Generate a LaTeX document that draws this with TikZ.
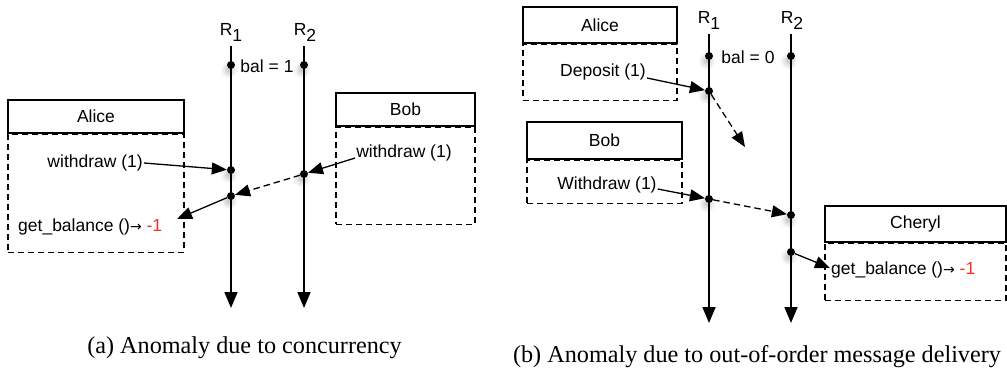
\documentclass[tikz,border=0pt]{standalone}
\usepackage{fontspec}
\newfontfamily\helv{Liberation Sans}
\newfontfamily\captserif{Liberation Serif}
\newfontfamily\arrowfont{DejaVu Sans}
\usetikzlibrary{arrows.meta,shadows.blur}
\definecolor{errred}{RGB}{250,45,35}
\newcommand{\retarrow}{{\arrowfont\fontsize{14}{16}\selectfont →}}

\begin{document}
\begin{tikzpicture}
[
x=1pt,y=-1pt,
lbl/.style={font=\helv\fontsize{17.5}{20}\selectfont,inner sep=1pt},
ev/.style={circle,fill,inner sep=0pt,minimum size=8pt,
           blur shadow={shadow xshift=-2pt,shadow yshift=-5pt,shadow blur radius=5pt,shadow opacity=25}},
head/.style 2 args={draw,line width=1.3pt,minimum width=#1,minimum height=#2,lbl},
body/.style 2 args={draw,line width=1.2pt,dash pattern=on 6pt off 4pt,minimum width=#1,minimum height=#2,anchor=north},
replica/.style={line width=1.7pt,-{Triangle[length=16pt,width=13pt]}},
msg/.style={line width=1.3pt,-{Triangle[length=15pt,width=12pt]}},
dmsg/.style={msg,dash pattern=on 6.5pt off 4pt},
capt/.style={font=\captserif\fontsize{24.2}{28}\selectfont},
]
\useasboundingbox (0,0) rectangle (1007,377);

%%% (a) concurrent withdrawals
%Place the replicas
\coordinate (ar1) at (231,46);
\coordinate (ar1e) at (231,308);
\coordinate (ar2) at (304,46);
\coordinate (ar2e) at (304,308);
\draw[replica] (ar1) -- (ar1e);
\draw[replica] (ar2) -- (ar2e);
\node[lbl] (ar1lab) at (231,32) {R\raisebox{-6pt}{1}};
\node[lbl] (ar2lab) at (305,32) {R\raisebox{-6pt}{2}};
%Events on the replicas
\node[ev] (ab1) at (231,65) {};
\node[ev] (ab2) at (304,65) {};
\node[lbl] (abal) at (267,66) {bal = 1};
\node[ev] (aw1) at (231,170) {};
\node[ev] (ag1) at (231,196) {};
\node[ev] (aw2) at (304,174) {};
%Clients
\node[head={176}{33}] (alice) at (96,116.5) {Alice};
\node[body={176}{118}] (alicebox) at (alice.south) {};
\node[lbl,anchor=east] (awd) at (144,163) {withdraw (1)};
\node[lbl,anchor=west] (aget) at (17,227) {get\_balance ()\retarrow{} \textcolor{errred}{-1}};
\coordinate (agettip) at (177,219);
\node[head={139}{33}] (bob) at (405.5,109.5) {Bob};
\node[body={139}{97}] (bobbox) at (bob.south) {};
\node[lbl] (bwd) at (404,153) {withdraw (1)};
%Draw the connections
\draw[msg] (awd.east) -- (aw1);
\draw[msg] ([yshift=-5pt]bwd.west) -- (aw2);
\draw[dmsg] (aw2) -- (ag1);
\draw[msg] (ag1) -- (agettip);
\node[capt] (capa) at (244.5,348) {(a) Anomaly due to concurrency};

%%% (b) out-of-order delivery
%Place the replicas
\coordinate (br1) at (709,34);
\coordinate (br1e) at (709,323);
\coordinate (br2) at (791,34);
\coordinate (br2e) at (791,323);
\draw[replica] (br1) -- (br1e);
\draw[replica] (br2) -- (br2e);
\node[lbl] (br1lab) at (709,20) {R\raisebox{-6pt}{1}};
\node[lbl] (br2lab) at (792,20) {R\raisebox{-6pt}{2}};
%Events on the replicas
\node[ev] (bb1) at (709,56) {};
\node[ev] (bb2) at (791,56) {};
\node[lbl] (bbal) at (748,57) {bal = 0};
\node[ev] (bd1) at (709,91) {};
\node[ev] (bw1) at (709,199) {};
\node[ev] (bw2) at (791,215) {};
\node[ev] (bg2) at (791,252) {};
\coordinate (bdlost) at (745,147);
%Clients
\node[head={154}{36}] (alice2) at (600,25) {Alice};
\node[body={154}{56}] (alice2box) at (alice2.south) {};
\node[lbl] (bdep) at (603,72) {Deposit (1)};
\node[head={155}{37}] (bob2) at (604.5,140.5) {Bob};
\node[body={155}{43}] (bob2box) at (bob2.south) {};
\node[lbl] (bwdr) at (607,185) {Withdraw (1)};
\node[head={181}{36}] (cheryl) at (915.5,224) {Cheryl};
\node[body={181}{57}] (cherylbox) at (cheryl.south) {};
\node[lbl,anchor=west] (bget) at (830,270) {get\_balance ()\retarrow{} \textcolor{errred}{-1}};
%Draw the connections
\draw[msg] ([yshift=-6pt]bdep.east) -- (bd1);
\draw[dmsg] (bd1) -- (bdlost);
\draw[msg] ([yshift=-4pt]bwdr.east) -- (bw1);
\draw[dmsg] (bw1) -- (bw2);
\draw[msg] (bg2) -- ([yshift=2pt]bget.west);
\node[capt] (capb) at (757,357) {(b) Anomaly due to out-of-order message delivery};
\end{tikzpicture}
\end{document}
